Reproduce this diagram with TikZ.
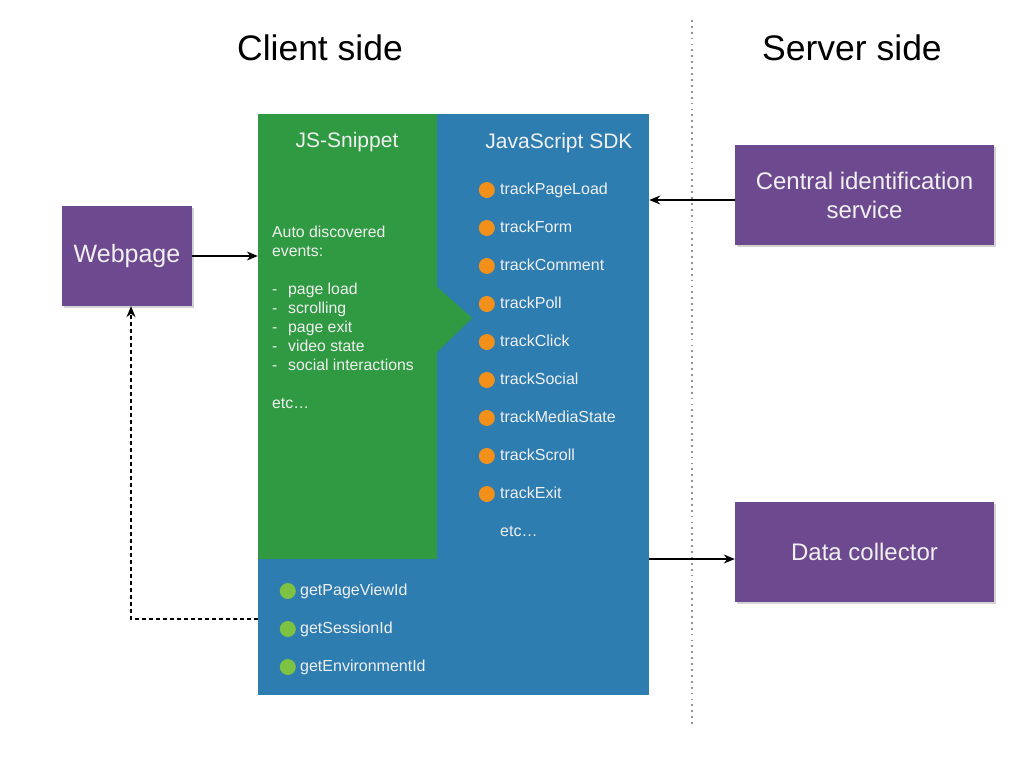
\documentclass[tikz,border=0pt]{standalone}
\usepackage{fontspec}
\setmainfont{Liberation Sans}
\usetikzlibrary{arrows.meta,positioning,shadows}
\definecolor{sdkblue}{HTML}{2E7DB1}
\definecolor{snipgreen}{HTML}{2F9A42}
\definecolor{boxpurple}{HTML}{6D4A8F}
\definecolor{dotorange}{HTML}{F39019}
\definecolor{dotgreen}{HTML}{7DC242}

\begin{document}
\begin{tikzpicture}[
        x=1pt, y=-1pt,
        svc/.style={rectangle, fill=boxpurple, text=white!94!black, align=center, font=\fontsize{24}{29}\selectfont, minimum width=259pt, minimum height=100pt, drop shadow={shadow xshift=2pt, shadow yshift=-2pt, opacity=0.35}},
        panel/.style={rectangle, inner sep=0pt},
        heading/.style={font=\fontsize{21}{24}\selectfont, text=white!94!black},
        item/.style={anchor=west, inner sep=0pt, text height=11pt, text depth=3pt, text=white!94!black, font=\fontsize{16}{18}\selectfont},
        odot/.style={item, label={[circle, fill=dotorange, minimum size=16pt, inner sep=0pt, label distance=5pt]left:{}}},
        gdot/.style={item, label={[circle, fill=dotgreen, minimum size=16pt, inner sep=0pt, label distance=4pt]left:{}}},
        arrow/.style={-{Stealth[length=11pt,width=9pt]}, line width=1.4pt, draw=black}
    ]
        \useasboundingbox[fill=white] (0,0) rectangle (1024,768);

        % Titles and divider
        \node[font=\fontsize{35.5}{40}\selectfont] (client) at (320,48) {Client side};
        \node[font=\fontsize{35.5}{40}\selectfont] (server) at (852,48) {Server side};
        \coordinate (divtop) at (692,20);
        \coordinate (divbot) at (692,726);
        \draw[gray!85, line width=1.8pt, dash pattern=on 1.8pt off 4.1pt] (divtop) -- (divbot);

        % Panels
        \node[panel, fill=sdkblue, minimum width=391pt, minimum height=581pt] (sdk) at (453.5,404.5) {};
        \node[panel, fill=snipgreen, minimum width=179pt, minimum height=445pt] (snippet) at (347.5,336.5) {};
        \fill[snipgreen] ([yshift=49.5pt]snippet.east) -- ([shift={(35pt,18.5pt)}]snippet.east) -- ([yshift=-15.5pt]snippet.east) -- cycle;

        \node[heading] (snipttl) at (347,142) {JS-Snippet};
        \node[heading] (sdkttl) at (559,143) {JavaScript SDK};

        \node[anchor=north west, inner sep=0pt, align=left, text=white!94!black, font=\fontsize{15.8}{19}\selectfont] (events) at (272,226) {Auto discovered\\events:\\[19pt]
            \makebox[16pt][l]{-}page load\\
            \makebox[16pt][l]{-}scrolling\\
            \makebox[16pt][l]{-}page exit\\
            \makebox[16pt][l]{-}video state\\
            \makebox[16pt][l]{-}social interactions\\[19pt]
            etc\ldots};

        % SDK calls
        \node[odot] (tpageload) at (500,190) {trackPageLoad};
        \node[odot] (tform) at (500,228) {trackForm};
        \node[odot] (tcomment) at (500,266) {trackComment};
        \node[odot] (tpoll) at (500,304) {trackPoll};
        \node[odot] (tclick) at (500,342) {trackClick};
        \node[odot] (tsocial) at (500,380) {trackSocial};
        \node[odot] (tmedia) at (500,418) {trackMediaState};
        \node[odot] (tscroll) at (500,456) {trackScroll};
        \node[odot] (texit) at (500,494) {trackExit};
        \node[item] (tetc) at (500,532) {etc\ldots};

        \node[gdot] (gview) at (300,591) {getPageViewId};
        \node[gdot] (gsession) at (300,629) {getSessionId};
        \node[gdot] (genv) at (300,667) {getEnvironmentId};

        % Services
        \node[svc, minimum width=130pt, font=\fontsize{25}{28}\selectfont] (webpage) at (127,256) {Webpage};
        \node[svc] (central) at (864.5,195) {Central identification\\service};
        \node[svc] (collector) at (864.5,552) {Data collector};

        % Edges
        \draw[arrow] (webpage.east) -- (webpage.east -| snippet.west);
        \draw[arrow] ([yshift=-5pt]central.west) -- ([yshift=-5pt]central.west -| sdk.east);
        \draw[arrow] ([yshift=-7pt]collector.west -| sdk.east) -- ([yshift=-7pt]collector.west);
        \coordinate (ret) at (258,619);
        \draw[arrow, dash pattern=on 4pt off 3pt] (ret) -| ([xshift=4pt]webpage.south);
    \end{tikzpicture}
\end{document}
